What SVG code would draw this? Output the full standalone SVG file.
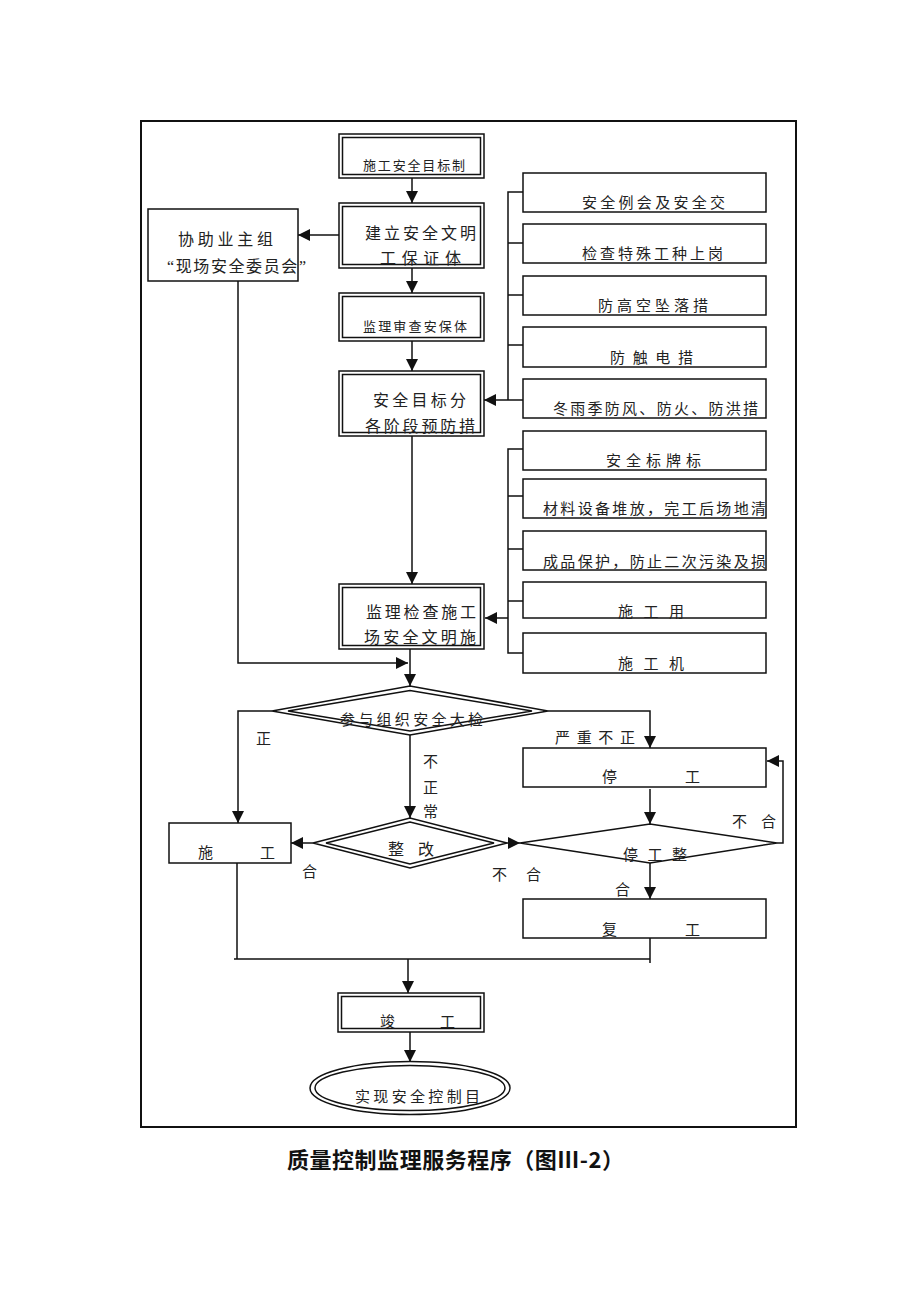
<svg xmlns="http://www.w3.org/2000/svg" width="920" height="1302" viewBox="0 0 920 1302">
<style>
.ln{fill:none;stroke:#111;stroke-width:1.5}
.bx{fill:#fff;stroke:#111;stroke-width:1.5}
.t{font-family:"Liberation Serif","Noto Sans CJK SC",serif;font-size:15px;fill:#222}
.s{font-size:13px}
.m{font-size:16px}
.ttl{font-family:"Noto Sans CJK SC",sans-serif;font-size:22px;font-weight:700;fill:#111}
</style>
<defs>
<marker id="ah" markerUnits="userSpaceOnUse" markerWidth="12" markerHeight="12" refX="12" refY="6" orient="auto">
<path d="M0,0 L12,6 L0,12 z" fill="#111"/>
</marker>
</defs>
<rect width="920" height="1302" fill="#fff"/>
<rect x="141" y="121" width="655" height="1006" fill="none" stroke="#111" stroke-width="2"/>

<g id="connectors">
<path class="ln" d="M412,178 V203" marker-end="url(#ah)"/>
<path class="ln" d="M412,268 V293" marker-end="url(#ah)"/>
<path class="ln" d="M412,341 V371" marker-end="url(#ah)"/>
<path class="ln" d="M412,436 V584" marker-end="url(#ah)"/>
<path class="ln" d="M339,235 H298" marker-end="url(#ah)"/>
<path class="ln" d="M238,281 V663 H408" marker-end="url(#ah)"/>
<path class="ln" d="M410,649 V686" marker-end="url(#ah)"/>
<path class="ln" d="M523,192 H508 V400 M508,243 H523 M508,295 H523 M508,345 H523"/>
<path class="ln" d="M523,400 H484" marker-end="url(#ah)"/>
<path class="ln" d="M523,449 H508 V653 H523 M508,496 H523 M508,549 H523 M508,601 H523"/>
<path class="ln" d="M508,618 H485" marker-end="url(#ah)"/>
<path class="ln" d="M272,711 H238 V823" marker-end="url(#ah)"/>
<path class="ln" d="M548,711 H650 V748" marker-end="url(#ah)"/>
<path class="ln" d="M410,735 V818" marker-end="url(#ah)"/>
<path class="ln" d="M313,843 H291" marker-end="url(#ah)"/>
<path class="ln" d="M507,843 H520" marker-end="url(#ah)"/>
<path class="ln" d="M650,789 V824" marker-end="url(#ah)"/>
<path class="ln" d="M777,843 H783 V761 H767" marker-end="url(#ah)"/>
<path class="ln" d="M650,863 V899" marker-end="url(#ah)"/>
<path class="ln" d="M237,863 V959 M234,959 H650 M650,938 V963"/>
<path class="ln" d="M408,959 V993" marker-end="url(#ah)"/>
<path class="ln" d="M410,1032 V1062" marker-end="url(#ah)"/>
<text class="t" x="256" y="744">正</text>
<text class="t" x="555" y="743" textLength="80" lengthAdjust="spacing">严重不正</text>
<text class="t" x="423" y="767">不</text>
<text class="t" x="423" y="793">正</text>
<text class="t" x="423" y="817">常</text>
<text class="t" x="302" y="877">合</text>
<text class="t" x="492" y="880" textLength="49" lengthAdjust="spacing">不 合</text>
<text class="t" x="732" y="827" textLength="44" lengthAdjust="spacing">不 合</text>
<text class="t" x="615" y="895">合</text>
</g>

<g id="n1">
<rect class="bx" x="339" y="134" width="145" height="44"/>
<rect class="bx" x="342.5" y="137.5" width="138" height="37"/>
<text class="t s" x="363" y="170" textLength="102" lengthAdjust="spacing">施工安全目标制</text>
</g>
<g id="n2">
<rect class="bx" x="339" y="203" width="145" height="65"/>
<rect class="bx" x="342.5" y="206.5" width="138" height="58"/>
<text class="t m" x="365" y="239" textLength="111" lengthAdjust="spacing">建立安全文明</text>
<text class="t m" x="380" y="264" textLength="81" lengthAdjust="spacing">工保证体</text>
</g>
<g id="n3">
<rect class="bx" x="148" y="209" width="150" height="72"/>
<text class="t m" x="178" y="245" textLength="95" lengthAdjust="spacing">协助业主组</text>
<text class="t m" x="167" y="272" textLength="139" lengthAdjust="spacing">“现场安全委员会”</text>
</g>
<g id="n4">
<rect class="bx" x="339" y="293" width="145" height="48"/>
<rect class="bx" x="342.5" y="296.5" width="138" height="41"/>
<text class="t s" x="363" y="331" textLength="104" lengthAdjust="spacing">监理审查安保体</text>
</g>
<g id="n5">
<rect class="bx" x="339" y="371" width="145" height="65"/>
<rect class="bx" x="342.5" y="374.5" width="138" height="58"/>
<text class="t m" x="373" y="406" textLength="93" lengthAdjust="spacing">安全目标分</text>
<text class="t m" x="365" y="432" textLength="110" lengthAdjust="spacing">各阶段预防措</text>
</g>
<g id="r1"><rect class="bx" x="523" y="173" width="243" height="39"/><text class="t" x="582" y="208" textLength="143" lengthAdjust="spacing">安全例会及安全交</text></g>
<g id="r2"><rect class="bx" x="523" y="224" width="243" height="39"/><text class="t" x="582" y="259" textLength="141" lengthAdjust="spacing">检查特殊工种上岗</text></g>
<g id="r3"><rect class="bx" x="523" y="276" width="243" height="39"/><text class="t" x="598" y="311" textLength="110" lengthAdjust="spacing">防高空坠落措</text></g>
<g id="r4"><rect class="bx" x="523" y="327" width="243" height="40"/><text class="t" x="610" y="363" textLength="83" lengthAdjust="spacing">防触电措</text></g>
<g id="r5"><rect class="bx" x="523" y="379" width="243" height="39"/><text class="t" x="553" y="414" textLength="205" lengthAdjust="spacing">冬雨季防风、防火、防洪措</text></g>
<g id="r6"><rect class="bx" x="523" y="431" width="243" height="39"/><text class="t" x="606" y="466" textLength="95" lengthAdjust="spacing">安全标牌标</text></g>
<g id="r7"><rect class="bx" x="523" y="479" width="243" height="39"/><text class="t" x="543" y="514" textLength="223" lengthAdjust="spacing">材料设备堆放，完工后场地清</text></g>
<g id="r8"><rect class="bx" x="523" y="531" width="243" height="39"/><text class="t" x="543" y="567" textLength="223" lengthAdjust="spacing">成品保护，防止二次污染及损</text></g>
<g id="r9"><rect class="bx" x="523" y="582" width="243" height="36"/><text class="t" x="618" y="617" textLength="66" lengthAdjust="spacing">施 工 用</text></g>
<g id="r10"><rect class="bx" x="523" y="633" width="243" height="40"/><text class="t" x="618" y="669" textLength="66" lengthAdjust="spacing">施 工 机</text></g>
<g id="n6">
<rect class="bx" x="339" y="584" width="145" height="65"/>
<rect class="bx" x="342.5" y="587.5" width="138" height="58"/>
<text class="t m" x="366" y="618" textLength="110" lengthAdjust="spacing">监理检查施工</text>
<text class="t m" x="364" y="643" textLength="112" lengthAdjust="spacing">场安全文明施</text>
</g>
<g id="d1">
<polygon class="bx" points="272,711 410,686 548,711 410,735"/>
<polygon class="bx" points="288,711 410,690.5 532,711 410,731"/>
<text class="t" x="340" y="725" textLength="143" lengthAdjust="spacing">参与组织安全大检</text>
</g>
<g id="n7">
<rect class="bx" x="169" y="823" width="122" height="40"/>
<text class="t" x="198" y="858">施</text>
<text class="t" x="260" y="858">工</text>
</g>
<g id="d2">
<polygon class="bx" points="313,843 410,818 507,843 410,868"/>
<polygon class="bx" points="326,843 410,822 494,843 410,864"/>
<text class="t m" x="388" y="855" textLength="46" lengthAdjust="spacing">整 改</text>
</g>
<g id="n8">
<rect class="bx" x="523" y="748" width="243" height="39"/>
<text class="t" x="602" y="782">停</text>
<text class="t" x="685" y="782">工</text>
</g>
<g id="d3">
<polygon class="bx" points="520,843 650,824 777,843 650,863"/>
<text class="t" x="623" y="860" textLength="64" lengthAdjust="spacing">停 工 整</text>
</g>
<g id="n9">
<rect class="bx" x="523" y="899" width="243" height="39"/>
<text class="t" x="602" y="935">复</text>
<text class="t" x="685" y="935">工</text>
</g>
<g id="n10">
<rect class="bx" x="338" y="993" width="146" height="39"/>
<rect class="bx" x="341.5" y="996.5" width="139" height="32"/>
<text class="t" x="380" y="1027">竣</text>
<text class="t" x="440" y="1027">工</text>
</g>
<g id="n11">
<ellipse class="bx" cx="410" cy="1088" rx="100" ry="26.5"/>
<ellipse class="bx" cx="410" cy="1088" rx="95" ry="22.5"/>
<text class="t" x="355" y="1102" textLength="125" lengthAdjust="spacing">实现安全控制目</text>
</g>
<text class="ttl" x="287" y="1168" textLength="337" lengthAdjust="spacing">质量控制监理服务程序（图Ⅲ-2）</text>
</svg>
